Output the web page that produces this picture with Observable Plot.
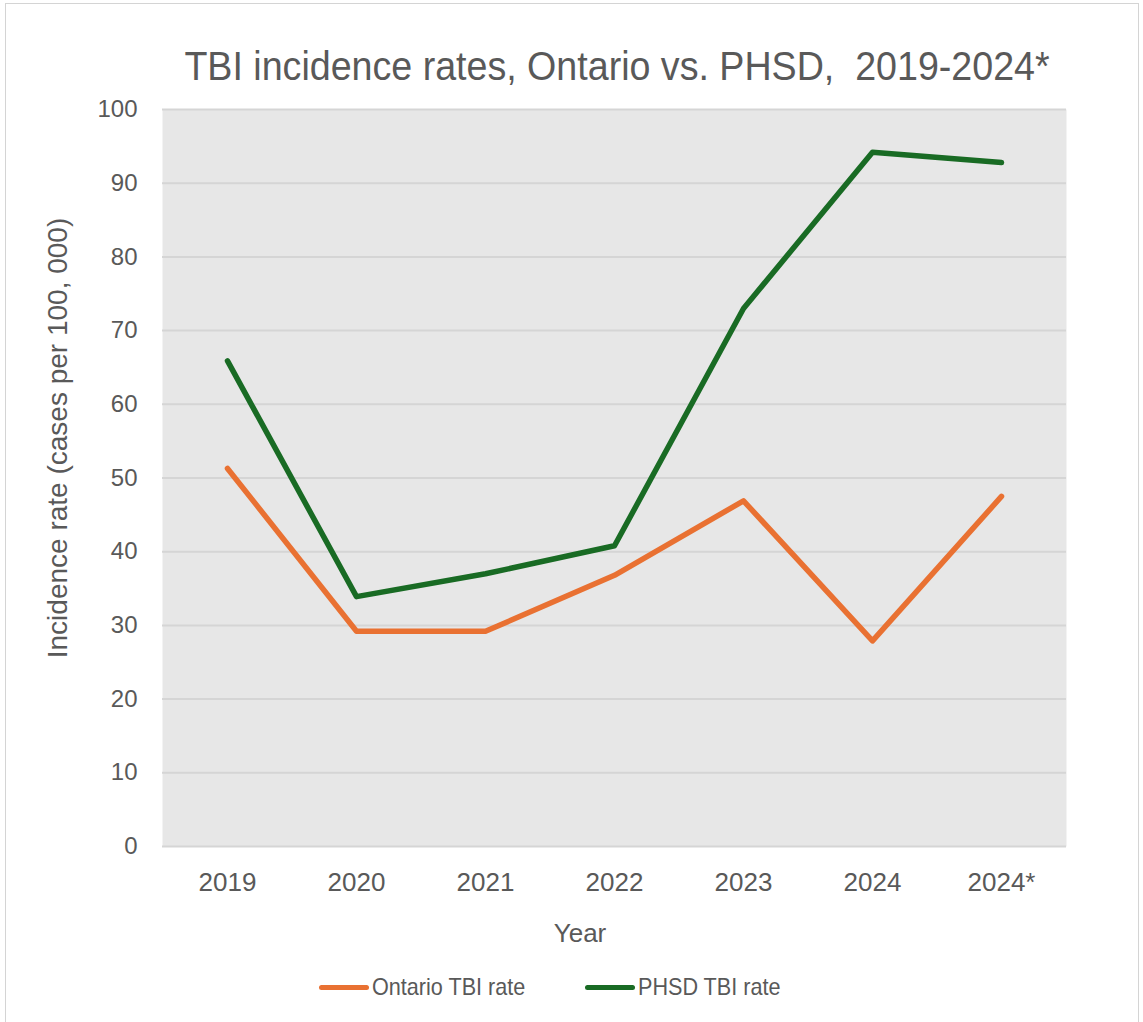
<!DOCTYPE html>
<html>
<head>
<meta charset="utf-8">
<script src="https://cdn.jsdelivr.net/npm/d3@7"></script>
<script src="https://cdn.jsdelivr.net/npm/@observablehq/plot@0.6"></script>
<style>
  html, body { margin: 0; padding: 0; background: #ffffff; }
  #wrap { position: relative; width: 1143px; height: 1022px; overflow: hidden; background: #ffffff; }
  #frame { position: absolute; left: 5px; top: 3px; width: 1134px; height: 1040px; border: 1px solid #d4d4d4; box-sizing: border-box; }
  #chart { position: absolute; left: 0; top: 0; }
  .t { position: absolute; color: #595959; white-space: nowrap; }
  #title { left: 617px; top: 41px; font-family: "Liberation Sans", Arial, sans-serif; font-size: 40px; line-height: 50px; transform: translateX(-50%) scaleX(0.94); }
  #ylabel { left: 58px; top: 438px; font-family: "Liberation Sans", Arial, sans-serif; font-size: 28px; line-height: 30px; transform: translate(-50%, -50%) rotate(-90deg); }
  #xlabel { left: 580px; top: 933px; font-family: "Liberation Sans", Arial, sans-serif; font-size: 26px; line-height: 30px; transform: translate(-50%, -50%); }
  .sw { position: absolute; width: 50px; height: 5px; border-radius: 3px; top: 985px; }
  .lab { position: absolute; top: 972px; font-family: "Liberation Sans", Arial, sans-serif; font-size: 24px; line-height: 30px; color: #595959; white-space: nowrap; transform-origin: 0 50%; transform: scaleX(0.9); }
</style>
</head>
<body>
<div id="wrap">
  <div id="frame"></div>
  <div id="chart"></div>
  <div class="t" id="title"></div>
  <div class="t" id="ylabel"></div>
  <div class="t" id="xlabel"></div>
</div>
<script>
const titleText = "TBI incidence rates, Ontario vs. PHSD,\u00a0\u00a02019-2024*";
const yLabel = "Incidence rate (cases per 100, 000)";
const xLabel = "Year";
const years = ["2019", "2020", "2021", "2022", "2023", "2024", "2024*"];
const ontario = [51.3, 29.2, 29.2, 36.8, 46.9, 27.9, 47.5];
const phsd = [65.9, 33.9, 37.0, 40.8, 73.0, 94.2, 92.8];
const seriesNames = ["Ontario TBI rate", "PHSD TBI rate"];
const seriesColors = ["#E97132", "#196B24"];
const yTicks = [0, 10, 20, 30, 40, 50, 60, 70, 80, 90, 100];

const rows = [];
years.forEach((y, i) => {
  rows.push({year: y, value: ontario[i], series: seriesNames[0]});
  rows.push({year: y, value: phsd[i], series: seriesNames[1]});
});

const plot = Plot.plot({
  width: 1143,
  height: 900,
  marginLeft: 162,
  marginRight: 77,
  marginTop: 109,
  marginBottom: 54,
  style: { fontFamily: "'Liberation Sans', Arial, sans-serif", fontSize: "26px", color: "#595959", background: "transparent" },
  x: { type: "point", domain: years, padding: 0.5, label: null },
  y: { domain: [0, 100], label: null },
  color: { domain: seriesNames, range: seriesColors },
  marks: [
    Plot.frame({ fill: "#e7e7e7", stroke: null }),
    Plot.gridY(yTicks, { stroke: "#d5d5d5", strokeOpacity: 1, strokeWidth: 2 }),
    Plot.axisY(yTicks, { tickSize: 0, tickPadding: 25, label: null, fontSize: 24 }),
    Plot.axisX({ tickSize: 0, tickPadding: 26, label: null }),
    Plot.line(rows, { x: "year", y: "value", z: "series", stroke: "series", strokeWidth: 5.5, strokeLinecap: "round", strokeLinejoin: "round" })
  ]
});
document.getElementById("chart").appendChild(plot);

document.getElementById("title").textContent = titleText;
document.getElementById("ylabel").textContent = yLabel;
document.getElementById("xlabel").textContent = xLabel;

const wrap = document.getElementById("wrap");
const swatchX = [319, 585];
const labelX = [372, 638];
seriesNames.forEach((name, i) => {
  const sw = document.createElement("div");
  sw.className = "sw";
  sw.style.left = swatchX[i] + "px";
  sw.style.background = seriesColors[i];
  const lab = document.createElement("div");
  lab.className = "lab";
  lab.style.left = labelX[i] + "px";
  lab.textContent = name;
  wrap.appendChild(sw);
  wrap.appendChild(lab);
});
</script>
</body>
</html>
